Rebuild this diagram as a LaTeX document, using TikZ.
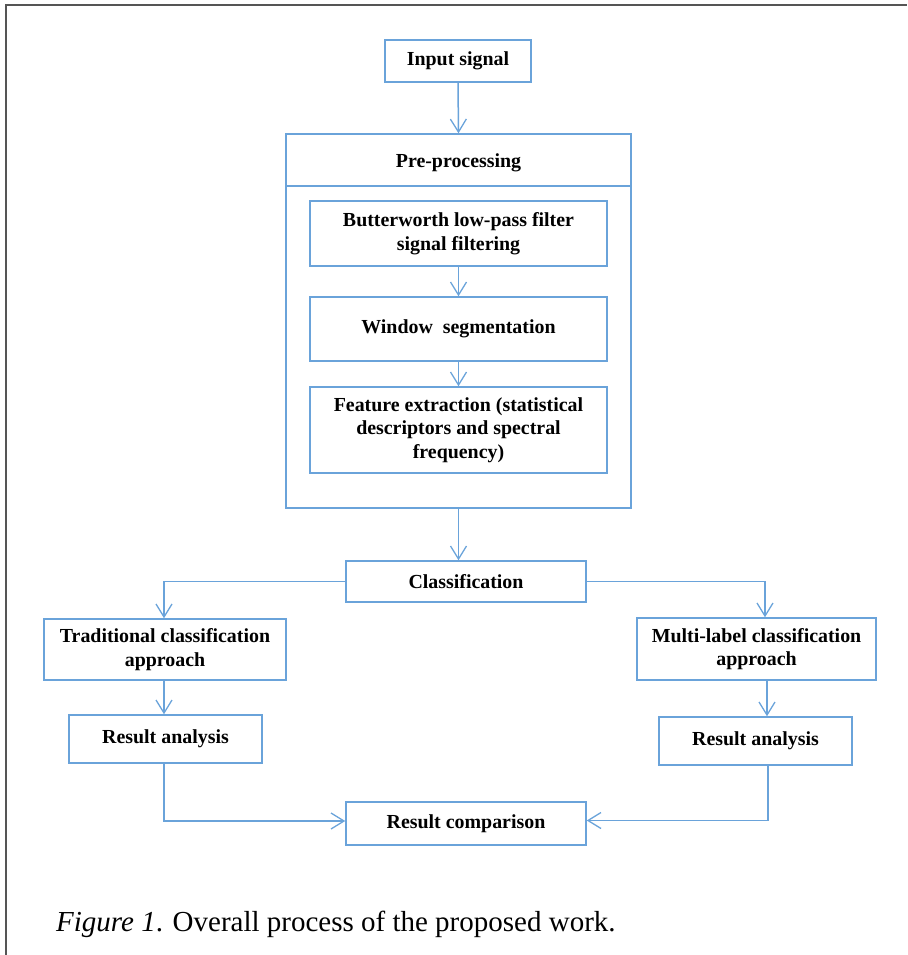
\documentclass[tikz,border=0pt]{standalone}
\usepackage{fontspec}
\setmainfont{Liberation Serif}
\usetikzlibrary{arrows.meta}
\definecolor{boxblue}{RGB}{106,163,218}
\definecolor{framegray}{RGB}{85,85,85}
\tikzset{
  boxfont/.style={font=\fontsize{19.9}{23.5}\selectfont\bfseries},
  box/.style={draw=boxblue, line width=1.5pt, rectangle, inner sep=0pt, align=center, boxfont},
  conn/.style={draw=boxblue, line width=1.5pt, -{Straight Barb[length=13pt,width=16pt,line width=1.3pt]}},
  plainline/.style={draw=boxblue, line width=1.5pt},
}
\begin{document}
\begin{tikzpicture}[x=1pt,y=-1pt]
\useasboundingbox (0,0) rectangle (907,955);
% frame
\draw[framegray, line width=2.2pt] (6,955) -- (6,5) -- (907,5);

\node[box, minimum width=146pt, minimum height=42pt] (input) at (458,61) {Input signal};
\node[box, minimum width=345pt, minimum height=374pt] (pre) at (458.5,321) {};
\node[boxfont, anchor=base] (pretitle) at (458.5,167) {Pre-processing};
\coordinate (div) at (286,186);
\draw[plainline] (pre.west |- div) -- (pre.east |- div);

\node[box, minimum width=297pt, minimum height=65pt] (butter) at (458.5,233.5) {Butterworth low-pass filter\\signal filtering};
\node[box, minimum width=297pt, minimum height=64pt] (window) at (458.5,329) {Window\enspace segmentation};
\node[box, minimum width=297pt, minimum height=86pt] (feature) at (458.5,430) {Feature extraction (statistical\\descriptors and spectral\\frequency)};

\node[box, minimum width=240pt, minimum height=41pt] (classif) at (466,581.5) {Classification};
\node[box, minimum width=242pt, minimum height=61pt] (trad) at (165,649.5) {Traditional classification\\approach};
\node[box, minimum width=193pt, minimum height=48pt] (resL) at (165.5,739) {Result analysis};
\node[box, minimum width=239pt, minimum height=62pt] (multi) at (756.5,649) {Multi-label classification\\approach};
\node[box, minimum width=193pt, minimum height=48pt] (resR) at (755.5,741) {Result analysis};
\node[box, minimum width=240pt, minimum height=43pt] (comp) at (466,823.5) {Result comparison};

\node[anchor=base west, font=\fontsize{29}{32}\selectfont, inner sep=0pt] (cap) at (56,931) {\textit{Figure 1}. Overall process of the proposed work.};

% connectors
\draw[conn] (input.south) -- (pre.north);
\draw[conn] (butter.south) -- (window.north);
\draw[conn] (window.south) -- (feature.north);
\draw[conn] (pre.south) -- (pre.south |- classif.north);
\draw[conn] (classif.west) -| ([xshift=-1pt]trad.north);
\draw[conn] (classif.east) -| ([xshift=8.5pt]multi.north);
\draw[conn] ([xshift=-1pt]trad.south) -- ([xshift=-1.5pt]resL.north);
\draw[conn] ([xshift=10.5pt]multi.south) -- ([xshift=11.5pt]resR.north);
\draw[conn] ([xshift=-1.5pt]resL.south) |- ([yshift=2.5pt]comp.west);
\draw[conn] ([xshift=12.5pt]resR.south) |- ([yshift=3pt]comp.east);
\end{tikzpicture}
\end{document}
